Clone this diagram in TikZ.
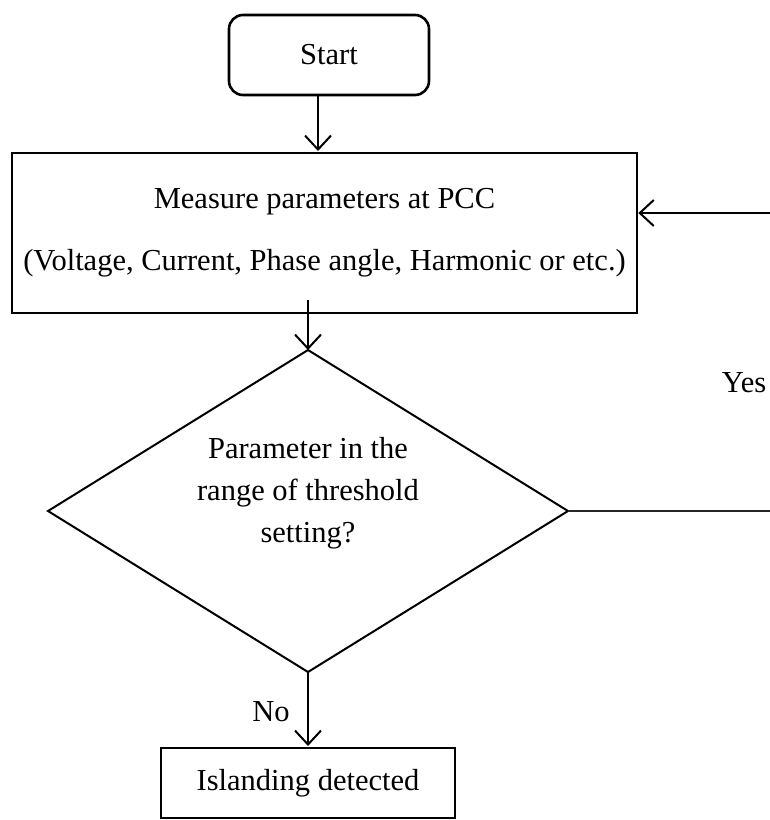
\documentclass[tikz,border=0pt]{standalone}
\usepackage{fontspec}
\setmainfont{Liberation Serif}
\usetikzlibrary{arrows.meta}
\begin{document}
\begin{tikzpicture}[x=1pt,y=-1pt,
  every node/.style={font=\fontsize{30.5}{42}\selectfont},
  box/.style={draw,line width=2.6pt,inner sep=0pt},
  flow/.style={line width=2pt,-{Straight Barb[length=14pt,width=26pt,line width=2pt]}},
  thinline/.style={line width=1.4pt,draw=black!85}]
\useasboundingbox (0,0) rectangle (770,820);

% start terminal
\node[box,rounded corners=14pt,minimum width=200pt,minimum height=80pt] (start) at (329,55) {Start};

% measurement block
\node[box,minimum width=625pt,minimum height=160pt,align=center] (meas) at (324.5,233)
  {Measure parameters at PCC\\[20pt](Voltage, Current, Phase angle, Harmonic or etc.)};

% decision diamond
\coordinate (dtop) at (308,350);
\coordinate (dright) at (568,511);
\coordinate (dbot) at (308,672);
\coordinate (dleft) at (48,511);
\draw[line width=2pt,line join=miter] (dtop) -- (dright) -- (dbot) -- (dleft) -- cycle;
\node[align=center] (dec) at (308,493) {Parameter in the\\range of threshold\\setting?};

% result block
\node[box,minimum width=294pt,minimum height=70pt] (isl) at (308,783) {Islanding detected};

% connectors
\draw[flow] (start.south -| 318,0) -- (318,151);
\coordinate (mbot) at (308,300);
\draw[flow] (mbot) -- (dtop);
\draw[flow] (dbot) -- (308,746);

% loop back when the parameter is in range
\coordinate (loopA) at (770,511);
\coordinate (loopB) at (770,213);
\draw[thinline] (dright) -- (loopA);
\draw[flow] (loopB) -- (meas.east |- loopB);

% labels
\node (yes) at (744,383) {Yes};
\node (no) at (271,712) {No};
\end{tikzpicture}
\end{document}
